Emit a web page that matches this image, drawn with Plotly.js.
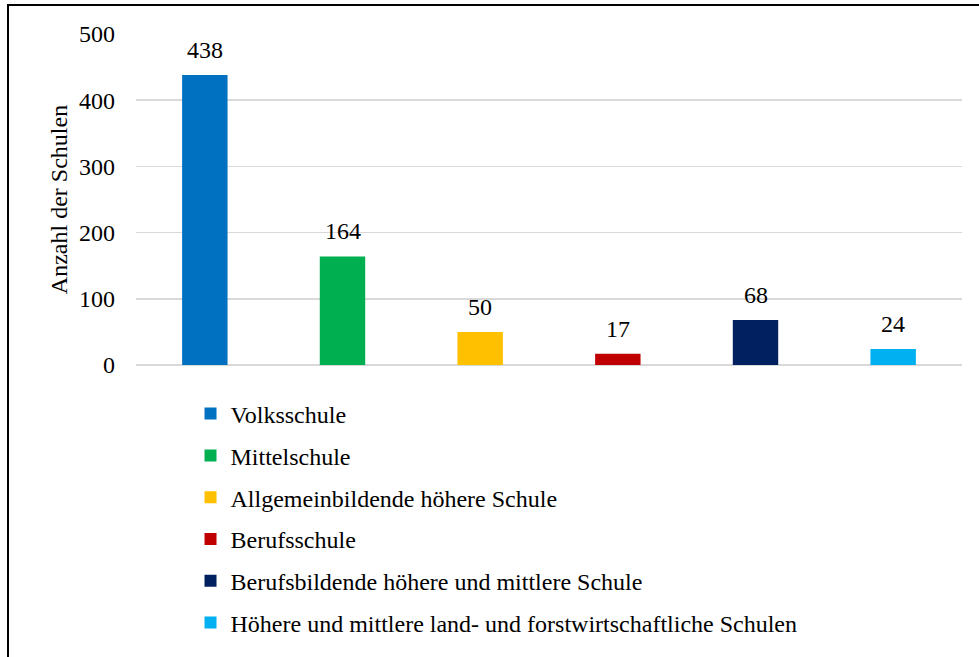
<!DOCTYPE html>
<html>
<head>
<meta charset="utf-8">
<script src="https://cdn.plot.ly/plotly-3.0.1.min.js"></script>
<style>
html,body{margin:0;padding:0;background:#fff;}
#frame{position:absolute;left:7px;top:4px;width:980px;height:660px;border-left:2px solid #000;border-top:2px solid #000;box-sizing:border-box;}
#chart{position:absolute;left:0;top:0;width:979px;height:657px;}
</style>
</head>
<body>
<div id="frame"></div>
<div id="chart"></div>
<script>
const categories = ["Volksschule","Mittelschule","Allgemeinbildende höhere Schule","Berufsschule","Berufsbildende höhere und mittlere Schule","Höhere und mittlere land- und forstwirtschaftliche Schulen"];
const values = [438,164,50,17,68,24];
const colors = ["#0070C0","#00B050","#FFC000","#C00000","#002060","#00B0F0"];
const yTicks = [0,100,200,300,400,500];

const FAM = "Liberation Serif";
function f(size){return {family:FAM,size:size,color:"#000"};}

const traces = categories.map((c,i)=>({
  type:"bar",
  x:[i],
  y:[values[i]],
  name:c,
  legendgroup:"g"+i,
  marker:{color:colors[i]},
  width:0.33,
  hoverinfo:"skip"
}));

const annotations = categories.map((c,i)=>({
  x:i, y:values[i], xref:"x", yref:"y",
  text:String(values[i]),
  showarrow:false, yanchor:"bottom", yshift:10,
  font:f(24)
}));

const layout = {
  width:979, height:657,
  paper_bgcolor:"rgba(0,0,0,0)", plot_bgcolor:"rgba(0,0,0,0)",
  margin:{l:136,r:17,t:34,b:292,autoexpand:false},
  barmode:"overlay",
  showlegend:true,
  font:f(24),
  annotations:annotations,
  xaxis:{range:[-0.5,5.5],showticklabels:false,showgrid:false,zeroline:false,showline:false,ticks:""},
  yaxis:{range:[0,500],tickvals:yTicks,ticktext:yTicks.map(String),showgrid:true,gridcolor:"#d9d9d9",gridwidth:1.5,
    zeroline:true,zerolinecolor:"#d9d9d9",zerolinewidth:1.5,showline:false,ticks:"",
    ticklabelstandoff:20,
    tickfont:f(24),
    title:{text:"Anzahl der Schulen",font:f(24),standoff:4}},
  legend:{x:0.066,xanchor:"left",y:-0.08,yanchor:"top",orientation:"v",font:f(24),
    tracegroupgap:7.6,itemwidth:30,traceorder:"grouped",bgcolor:"rgba(0,0,0,0)"}
};
Plotly.newPlot("chart",traces,layout,{displayModeBar:false,staticPlot:true});
</script>
</body>
</html>
